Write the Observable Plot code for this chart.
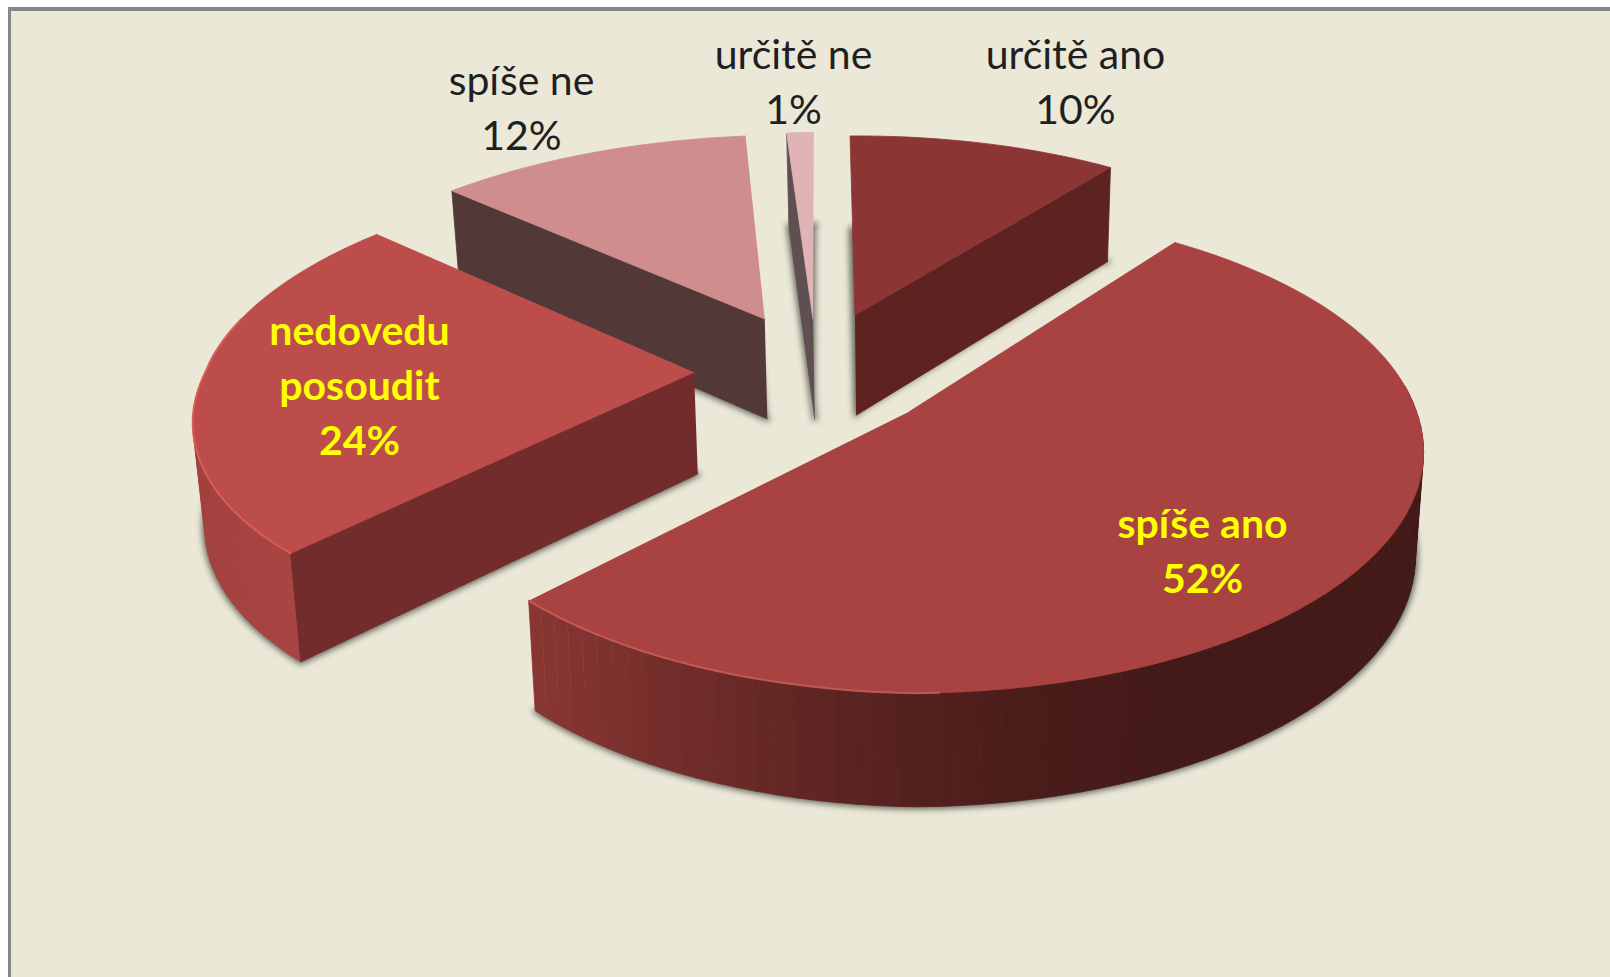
<!DOCTYPE html>
<html><head><meta charset="utf-8">
<style>
html,body{margin:0;padding:0;background:#fff;overflow:hidden;width:1610px;height:977px}
#panel{position:absolute;left:8px;top:7px;width:1610px;height:980px;background:#ebe8d8;border-left:3px solid #878787;border-top:4px solid #878787}
#chart{position:absolute;left:0;top:0}
</style>
<script src="https://cdn.jsdelivr.net/npm/d3@7"></script>
<script src="https://cdn.jsdelivr.net/npm/@observablehq/plot@0.6"></script>
</head><body><div id="panel"></div><div id="chart"></div>
<script>
// Data
const categories = ["určitě ano", "spíše ano", "nedovedu\nposoudit", "spíše ne", "určitě ne"];
const values = [10, 52, 24, 12, 1];              // printed percentages
const shares = [10.47, 51.94, 24.8, 11.8, 1];    // slice sizes as measured on the picture

// Styling per slice
const topColors = ["#8c3535", "#a84341", "#bd4d4b", "#cf8d8e", "#e0b4b6"];
const sideColors = ["#5e2220", "#6a2a28", "#722c2c", "#533838", "#5f4f50"];
const visibleSides = [["a1"], [], ["a0"], ["a0"], ["a0"]];
const rimAngles = [[0, 360], [0, 155, 169, 185, 209, 225], [0, 225, 265, 312, 360], [0, 360], [0, 360]];
const rimColors = [
  ["#5e2220", "#5e2220"],
  ["#431a18", "#431a18", "#4a1c1a", "#5a2320", "#7a302d", "#8d3835"],
  ["#a84442", "#a84442", "#a1403d", "#9c3c3a", "#9c3c3a"],
  ["#533838", "#533838"],
  ["#5f4f50", "#5f4f50"]
];
// Exploded position of each slice tip, in pie-plane units
const apexX = [-0.114, 0, -0.432, -0.302, -0.2013];
const apexZ = [0.434, 0, 0.17, 0.417, 0.417];
// Measured rim radius through each slice
const fitAngles = [[-2, 36], [36, 90, 180, 224], [223, 270, 313], [312, 355], [354, 359]];
const fitRadii = [[1.01, 1], [1, 0.988, 0.99, 0.96], [0.975, 0.98, 1.02], [1.02, 1.03], [1.05, 1.05]];
const paintOrder = [3, 4, 0, 2, 1];
const labelAt = [[1075, 78], [1202, 547], [359, 382], [521, 104], [793, 78]];
const labelFill = ["#1f1f1f", "#ffff00", "#ffff00", "#1f1f1f", "#1f1f1f"];
const labelWeight = ["normal", "bold", "bold", "normal", "normal"];

// Perspective camera for the pie
const cam = {x0: 909, yh: -1001, A: 513, B: 1412, p: 0.168, d0: 88, d1: 0.037, xc: 924, sq: 0.0163};
const rad = d => d * Math.PI / 180;
function project(X, Z, drop) {
  const w = 1 / (1 + cam.p * Z);
  const x = cam.x0 + cam.A * X * w, y = cam.yh + cam.B * w;
  return {x: x - drop * (x - cam.xc) * cam.sq, y: y + drop * (cam.d0 + cam.d1 * y)};
}

const pie = d3.pie().sort(null).startAngle(rad(-1.7)).endAngle(rad(358.3))(shares);
const slices = shares.map((v, i) => {
  const a0 = pie[i].startAngle * 180 / Math.PI, a1 = pie[i].endAngle * 180 / Math.PI;
  const radius = d3.scaleLinear().domain(fitAngles[i]).range(fitRadii[i]);
  const rimPoint = (a, drop) => project(apexX[i] + radius(a) * Math.sin(rad(a)), apexZ[i] + radius(a) * Math.cos(rad(a)), drop);
  const n = Math.max(1, Math.ceil((a1 - a0) / 2));
  const angles = d3.range(n + 1).map(k => a0 + (a1 - a0) * k / n);
  return {i, a0, a1, angles, rimPoint, apex: d => project(apexX[i], apexZ[i], d)};
});

const faces = [], shadows = [], highlights = [];
let faceId = 0;
const addFace = (pts, color) => { const z = faceId++; pts.forEach(p => faces.push({...p, z, color})); };

slices.forEach(s => {
  shadows.push(...[s.apex(1), ...s.angles.map(a => s.rimPoint(a, 1))].map(p => ({...p, z: s.i})));
});
paintOrder.forEach(i => {
  const s = slices[i];
  const shade = d3.scaleLinear().domain(rimAngles[i]).range(rimColors[i]);
  d3.pairs(s.angles).forEach(([a, b]) => {
    const mid = (a + b) / 2;
    if (Math.cos(rad(mid)) < 0.1) addFace([s.rimPoint(a, 0), s.rimPoint(b, 0), s.rimPoint(b, 1), s.rimPoint(a, 1)], shade(mid));
  });
  visibleSides[i].forEach(k => addFace([s.apex(0), s.rimPoint(s[k], 0), s.rimPoint(s[k], 1), s.apex(1)], sideColors[i]));
  addFace([s.apex(0), ...s.angles.map(a => s.rimPoint(a, 0))], topColors[i]);
});
// Bevel highlight on the front-left top rims
[[1, 176, "#c9605a"], [2, 285, "#e0625c"]].forEach(([i, from, color]) => {
  const s = slices[i];
  const lo = i === 1 ? from : s.a0, hi = i === 1 ? s.a1 : from;
  s.angles.filter(a => a >= lo && a <= hi).forEach(a => highlights.push({...s.rimPoint(a, 0), z: i, color}));
});

const labels = categories.map((c, i) => ({text: `${c}\n${values[i]}%`, x: labelAt[i][0], y: labelAt[i][1], fill: labelFill[i], weight: labelWeight[i]}));
const textMark = d => Plot.text(d, {x: "x", y: "y", text: "text", fill: "fill", fontFamily: "Lato", fontSize: 41, lineHeight: 1.34, fontWeight: d[0].weight, textAnchor: "middle", lineAnchor: "middle"});

const chart = Plot.plot({
  width: 1610, height: 977, margin: 0,
  x: {domain: [0, 1610], range: [0, 1610], axis: null},
  y: {domain: [0, 977], range: [0, 977], axis: null},
  style: {background: "transparent"},
  marks: [
    Plot.line(shadows, {x: "x", y: "y", z: "z", fill: "#55584c", stroke: "#55584c", strokeWidth: 5, fillOpacity: 0.85, strokeOpacity: 0.85, imageFilter: "blur(3px)"}),
    Plot.line(faces, {x: "x", y: "y", z: "z", fill: "color", stroke: "color", strokeWidth: 0.8, strokeLinejoin: "round"}),
    Plot.line(highlights, {x: "x", y: "y", z: "z", stroke: "color", strokeWidth: 2, strokeOpacity: 0.8}),
    textMark(labels.filter(d => d.weight === "normal")),
    textMark(labels.filter(d => d.weight === "bold"))
  ]
});
document.getElementById("chart").appendChild(chart);
</script>
</body></html>
